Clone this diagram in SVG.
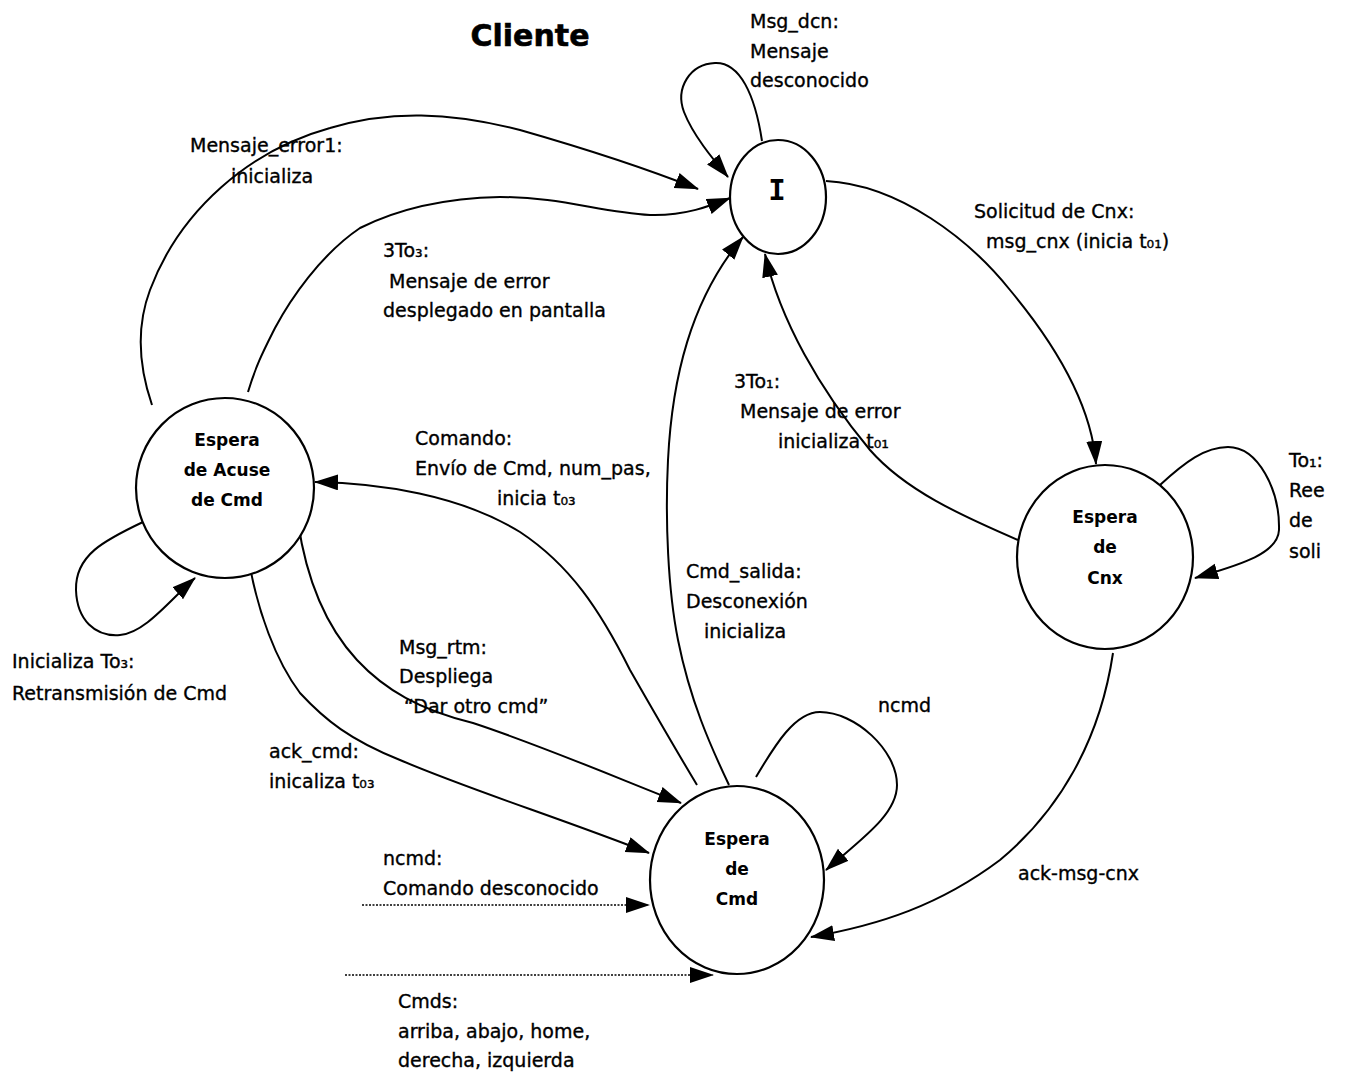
<svg xmlns="http://www.w3.org/2000/svg" width="1347" height="1073" viewBox="0 0 1347 1073">
<style>
.t{font-family:"DejaVu Sans","Noto Sans",sans-serif;font-size:19px;fill:#000;stroke:#000;stroke-width:0.35}
.n{font-family:"DejaVu Sans","Noto Sans",sans-serif;font-size:17px;font-weight:bold;fill:#000;text-anchor:middle}
.st{fill:#fff;stroke:#000;stroke-width:2.2}
.c{fill:none;stroke:#000;stroke-width:2;marker-end:url(#ah)}
.d{fill:none;stroke:#000;stroke-width:1.6;stroke-dasharray:2 1.5;marker-end:url(#ah)}
</style>
<defs>
<marker id="ah" markerUnits="userSpaceOnUse" markerWidth="24" markerHeight="18" refX="23" refY="8" orient="auto">
<path d="M0,0 L24,8 L0,16 Z" fill="#000"/>
</marker>
</defs>
<rect width="1347" height="1073" fill="#fff"/>
<text x="530" y="46" font-family="DejaVu Sans, sans-serif" font-size="30" font-weight="bold" text-anchor="middle" stroke="#000" stroke-width="0.6">Cliente</text>

<g id="connectors">
<path class="c" d="M762,141 C755,95 740,62 715,63 C690,64 675,88 684,112 C693,135 712,158 728,177"/>
<path class="c" d="M152,405 C140,370 135,330 150,290 C180,210 250,150 330,128 C390,110 450,112 520,130 C590,150 650,170 698,189"/>
<path class="c" d="M248,392 C256,365 264,350 275,328 C290,300 320,255 360,228 C400,208 450,198 500,197 C560,197 600,212 650,215 C685,216 710,206 730,198"/>
<path class="c" d="M729,785 C710,745 690,700 678,640 C668,590 665,520 668,460 C672,380 690,300 743,237"/>
<path class="c" d="M1018,540 C960,515 905,490 870,450 C820,390 780,320 765,254"/>
<path class="c" d="M826,181 C900,185 970,240 1010,290 C1060,350 1092,410 1096,464"/>
<path class="c" d="M1160,485 C1185,462 1205,447 1228,447 C1258,447 1280,490 1279,530 C1278,555 1235,566 1195,578"/>
<path class="c" d="M1113,653 C1100,740 1060,810 1000,860 C940,905 880,925 811,937"/>
<path class="c" d="M697,785 C670,740 650,705 630,670 C600,610 570,565 520,532 C460,495 380,483 315,482"/>
<path class="c" d="M298,522 C305,570 320,620 357,660 C385,690 420,710 473,723 C540,745 610,775 681,803"/>
<path class="c" d="M250,567 C258,610 275,660 300,693 C325,720 350,740 400,760 C470,790 560,818 649,853"/>
<path class="c" d="M756,777 C775,745 795,712 820,712 C855,712 897,750 897,785 C897,815 860,840 826,870"/>
<path class="c" d="M143,522 C105,540 75,555 76,590 C77,620 95,637 120,635 C145,633 170,600 195,578"/>
<path class="d" d="M362,905 L649,905"/>
<path class="d" d="M345,975 L713,975"/>
</g>

<g id="node-I">
<ellipse class="st" cx="778" cy="197" rx="48" ry="57"/>
<text x="777" y="200" font-family="DejaVu Sans Mono, monospace" font-size="29" font-weight="bold" text-anchor="middle">I</text>
</g>
<g id="node-acuse">
<ellipse class="st" cx="225" cy="488" rx="89" ry="90"/>
<text class="n" x="227" y="446">Espera</text>
<text class="n" x="227" y="476">de Acuse</text>
<text class="n" x="227" y="506">de Cmd</text>
</g>
<g id="node-cnx">
<ellipse class="st" cx="1105" cy="557" rx="88" ry="92"/>
<text class="n" x="1105" y="523">Espera</text>
<text class="n" x="1105" y="553">de</text>
<text class="n" x="1105" y="584">Cnx</text>
</g>
<g id="node-cmd">
<ellipse class="st" cx="737" cy="880" rx="87" ry="94"/>
<text class="n" x="737" y="845">Espera</text>
<text class="n" x="737" y="875">de</text>
<text class="n" x="737" y="905">Cmd</text>
</g>

<g id="labels">
<text class="t" x="750" y="28">Msg_dcn:</text>
<text class="t" x="750" y="58">Mensaje</text>
<text class="t" x="750" y="87">desconocido</text>
<text class="t" x="190" y="152">Mensaje_error1:</text>
<text class="t" x="231" y="183">inicializa</text>
<text class="t" x="383" y="257">3To₃:</text>
<text class="t" x="389" y="288">Mensaje de error</text>
<text class="t" x="383" y="317">desplegado en pantalla</text>
<text class="t" x="974" y="218">Solicitud de Cnx:</text>
<text class="t" x="986" y="248">msg_cnx (inicia t₀₁)</text>
<text class="t" x="734" y="388">3To₁:</text>
<text class="t" x="740" y="418">Mensaje de error</text>
<text class="t" x="778" y="448">inicializa t₀₁</text>
<text class="t" x="1289" y="467">To₁:</text>
<text class="t" x="1289" y="497">Ree</text>
<text class="t" x="1289" y="527">de</text>
<text class="t" x="1289" y="558">soli</text>
<text class="t" x="415" y="445">Comando:</text>
<text class="t" x="415" y="475">Envío de Cmd, num_pas,</text>
<text class="t" x="497" y="505">inicia t₀₃</text>
<text class="t" x="686" y="578">Cmd_salida:</text>
<text class="t" x="686" y="608">Desconexión</text>
<text class="t" x="704" y="638">inicializa</text>
<text class="t" x="399" y="654">Msg_rtm:</text>
<text class="t" x="399" y="683">Despliega</text>
<text class="t" x="404" y="713">“Dar otro cmd”</text>
<text class="t" x="12" y="668">Inicializa To₃:</text>
<text class="t" x="12" y="700">Retransmisión de Cmd</text>
<text class="t" x="269" y="758">ack_cmd:</text>
<text class="t" x="269" y="788">inicaliza t₀₃</text>
<text class="t" x="878" y="712">ncmd</text>
<text class="t" x="1018" y="880">ack-msg-cnx</text>
<text class="t" x="383" y="865">ncmd:</text>
<text class="t" x="383" y="895">Comando desconocido</text>
<text class="t" x="398" y="1008">Cmds:</text>
<text class="t" x="398" y="1038">arriba, abajo, home,</text>
<text class="t" x="398" y="1067">derecha, izquierda</text>
</g>
</svg>
